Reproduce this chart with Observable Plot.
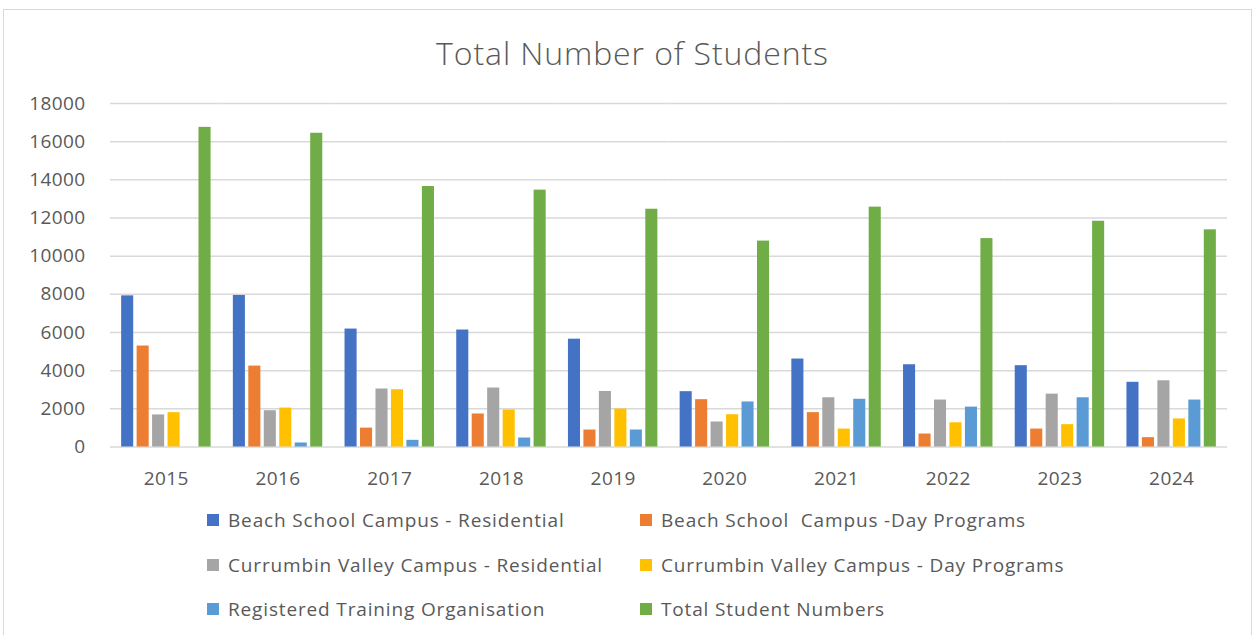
<!DOCTYPE html>
<html>
<head>
<meta charset="utf-8">
<script src="https://cdn.jsdelivr.net/npm/d3@7"></script>
<script src="https://cdn.jsdelivr.net/npm/@observablehq/plot@0.6"></script>
<style>
  body { margin: 0; background: #fff; font-family: "Open Sans", Lato, sans-serif; color: #595959; }
  #frame { position: absolute; left: 3px; top: 9px; width: 1249px; height: 640px; border: 1px solid #d9d9d9; box-sizing: border-box; }
  #title { position: absolute; left: 0; top: 32px; width: 1265px; text-align: center; font-size: 32px; font-weight: 300; line-height: 42px; letter-spacing: 0.9px; }
  #chart { position: absolute; left: 0; top: 90px; }
  .leg { position: absolute; display: flex; align-items: center; font-size: 19px; white-space: pre; line-height: 26px; letter-spacing: 0.85px; }
  .sw { width: 12px; height: 12px; margin-right: 9px; }
</style>
</head>
<body>
<div id="frame"></div>
<div id="title">Total Number of Students</div>
<div id="chart"></div>
<div id="legend"></div>
<script>
const years = ["2015","2016","2017","2018","2019","2020","2021","2022","2023","2024"];
const seriesNames = [
  "Beach School Campus - Residential",
  "Beach School  Campus -Day Programs",
  "Currumbin Valley Campus - Residential",
  "Currumbin Valley Campus - Day Programs",
  "Registered Training Organisation",
  "Total Student Numbers"
];
const colors = ["#4472C4", "#ED7D31", "#A5A5A5", "#FFC000", "#5B9BD5", "#70AD47"];
const beachRes = [7920, 7940, 6180, 6130, 5650, 2900, 4610, 4310, 4260, 3390];
const beachDay = [5290, 4240, 990, 1730, 890, 2480, 1800, 680, 940, 490];
const cvRes    = [1680, 1900, 3040, 3090, 2910, 1310, 2580, 2460, 2770, 3470];
const cvDay    = [1800, 2040, 3000, 1940, 1990, 1690, 940, 1270, 1170, 1470];
const rto      = [0, 210, 350, 470, 890, 2360, 2500, 2090, 2580, 2460];
const total    = [16750, 16440, 13650, 13460, 12460, 10790, 12570, 10920, 11830, 11380];
const yTicks = [0, 2000, 4000, 6000, 8000, 10000, 12000, 14000, 16000, 18000];

const seriesValues = [beachRes, beachDay, cvRes, cvDay, rto, total];
const data = years.flatMap((yr, i) => seriesNames.map((s, j) => ({year: yr, series: s, value: seriesValues[j][i]})));

const chart = Plot.plot({
  width: 1255,
  height: 410,
  marginLeft: 110,
  marginRight: 28,
  marginTop: 13,
  marginBottom: 53.5,
  style: {fontFamily: "'Open Sans', Lato, sans-serif", fontSize: "19px", color: "#595959", background: "transparent", overflow: "visible", letterSpacing: "0.4px"},
  fx: {domain: years, padding: 0, round: false, label: null, axis: "bottom", tickSize: 0, tickPadding: 24},
  x: {domain: seriesNames, paddingInner: 0.22, paddingOuter: 0.72, round: false, axis: null},
  y: {domain: [0, 18000], ticks: 9, tickFormat: "d", label: null, tickSize: 0, tickPadding: 25},
  color: {domain: seriesNames, range: colors},
  marks: [
    Plot.ruleY(yTicks, {stroke: "#d9d9d9", strokeWidth: 1.5}),
    Plot.barY(data, {fx: "year", x: "series", y: "value", fill: "series"})
  ]
});
document.getElementById("chart").appendChild(chart);

const legend = document.getElementById("legend");
seriesNames.forEach((s, i) => {
  const item = document.createElement("div");
  item.className = "leg";
  item.style.left = (207 + (i % 2) * 433) + "px";
  item.style.top = (507 + Math.floor(i / 2) * 44.5) + "px";
  const sw = document.createElement("span");
  sw.className = "sw";
  sw.style.background = colors[i];
  const t = document.createElement("span");
  t.textContent = s;
  item.appendChild(sw);
  item.appendChild(t);
  legend.appendChild(item);
});
</script>
</body>
</html>
